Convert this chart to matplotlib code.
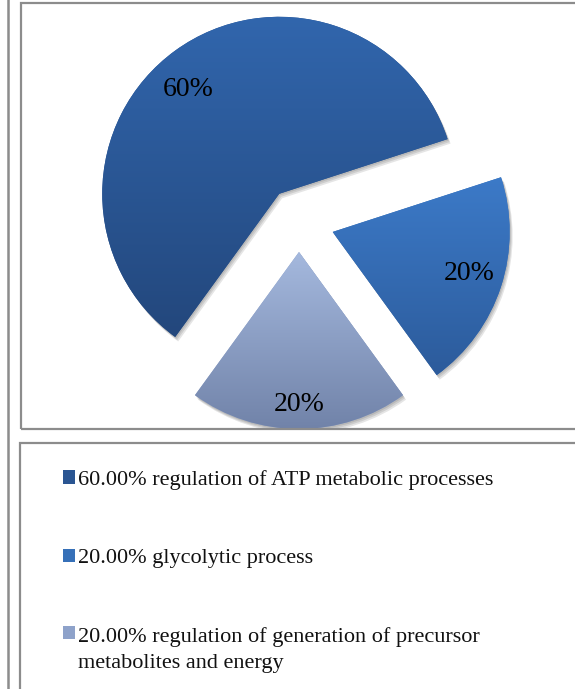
import matplotlib
matplotlib.use("Agg")
import numpy as np
import matplotlib.pyplot as plt
from matplotlib.patches import Rectangle, Patch, PathPatch
from matplotlib.colors import LinearSegmentedColormap
from matplotlib.legend_handler import HandlerPatch
from matplotlib import transforms

# Data
categories = [
    "regulation of ATP metabolic processes",
    "glycolytic process",
    "regulation of generation of precursor\nmetabolites and energy",
]
shares = [60.0, 20.0, 20.0]

# Styling
grad_top = ["#3166AD", "#3C7AC8", "#A5B9DE"]
grad_bottom = ["#23477C", "#2C5B9B", "#7183A9"]
swatch = ["#2A5592", "#3670B8", "#8EA2CA"]
explode = [0.19, 0.20, 0.175]
serif = "Liberation Serif"
legend_size = 16
legend_linespacing = 1.5

W, H = 575, 689
fig = plt.figure(figsize=(W / 100, H / 100), dpi=100)
fig.patch.set_facecolor("white")


def fx(px):
    return px / W


def fy(py):
    return 1 - py / H


# Pie panel (pixel box of the upper frame)
left, right, top, bottom = 21, 575, 3, 429
cx, cy, R = 299, 221, 177
ax = fig.add_axes([fx(left), fy(bottom), (right - left) / W, (bottom - top) / H])

wedges, texts, autotexts = ax.pie(
    shares,
    explode=explode,
    startangle=234,
    counterclock=False,
    autopct="%1.0f%%",
    pctdistance=0.8,
    colors=swatch,
    wedgeprops=dict(linewidth=0),
    textprops=dict(family=serif, fontsize=20, color="black"),
)

xlim = ((left - cx) / R, (right - cx) / R)
ylim = ((cy - bottom) / R, (cy - top) / R)

# Soft drop shadow and vertical gradient fill for each slice
for i, w in enumerate(wedges):
    path = w.get_path()
    for k, (dx, dy) in enumerate([(1, -1.5), (2, -3), (3, -4.5)]):
        off = transforms.offset_copy(ax.transData, fig=fig, x=dx, y=dy, units="dots")
        sh = PathPatch(path, transform=off, facecolor="black", edgecolor="none",
                       alpha=0.10, zorder=0.5)
        ax.add_patch(sh)
    ext = path.get_extents()
    cmap = LinearSegmentedColormap.from_list("g%d" % i, [grad_bottom[i], grad_top[i]])
    grad = np.linspace(0, 1, 256).reshape(-1, 1)
    im = ax.imshow(grad, cmap=cmap, origin="lower", aspect="auto",
                   extent=[ext.x0, ext.x1, ext.y0, ext.y1], zorder=1.5,
                   interpolation="bilinear")
    im.set_clip_path(w)
    w.set_zorder(1)

for t in autotexts:
    t.set_zorder(3)
# nudge labels within their slices
x, y = autotexts[0].get_position()
autotexts[0].set_position((x - 0.045, y - 0.06))
x, y = autotexts[1].get_position()
autotexts[1].set_position((x + 0.01, y + 0.015))
x, y = autotexts[2].get_position()
autotexts[2].set_position((x, y * 0.85 / 0.8))

ax.set_xlim(*xlim)
ax.set_ylim(*ylim)
ax.set_aspect("auto")
ax.set_axis_off()

# Frames
frame_kw = dict(transform=fig.transFigure, fill=False, edgecolor="#8c8c8c",
                linewidth=1.6, zorder=10)
fig.add_artist(Rectangle((fx(21), fy(429)), fx(590) - fx(21), fy(3) - fy(429), **frame_kw))
fig.add_artist(Rectangle((fx(20), fy(700)), fx(590) - fx(20), fy(443) - fy(700), **frame_kw))
fig.add_artist(plt.Line2D([fx(8), fx(8)], [0, 1], transform=fig.transFigure,
                          color="#8c8c8c", linewidth=1.8))


# Legend: swatch sits beside the first line of a wrapped label
def first_line_swatch(n_lines):
    shift = (n_lines - 1) * legend_size * legend_linespacing / 2

    def make(legend, orig_handle, xdescent, ydescent, width, height, fontsize):
        return Rectangle((-xdescent, -ydescent + shift), width, height)
    return make


labels = [f"{v:.2f}% {c}" for v, c in zip(shares, categories)]
handles = [Patch(facecolor=c, edgecolor="none") for c in swatch]
handler_map = {h: HandlerPatch(patch_func=first_line_swatch(lab.count("\n") + 1))
               for h, lab in zip(handles, labels)}
leg = fig.legend(handles, labels, loc="upper left", bbox_to_anchor=(fx(63), fy(470)),
                 frameon=False, prop=dict(family=serif, size=legend_size),
                 handlelength=0.55, handleheight=0.55, handletextpad=0.12,
                 labelspacing=2.64, borderaxespad=0, borderpad=0,
                 handler_map=handler_map)
for t in leg.get_texts():
    t.set_linespacing(legend_linespacing)
    t.set_color("#111111")

fig.savefig("out.png", dpi=100)
